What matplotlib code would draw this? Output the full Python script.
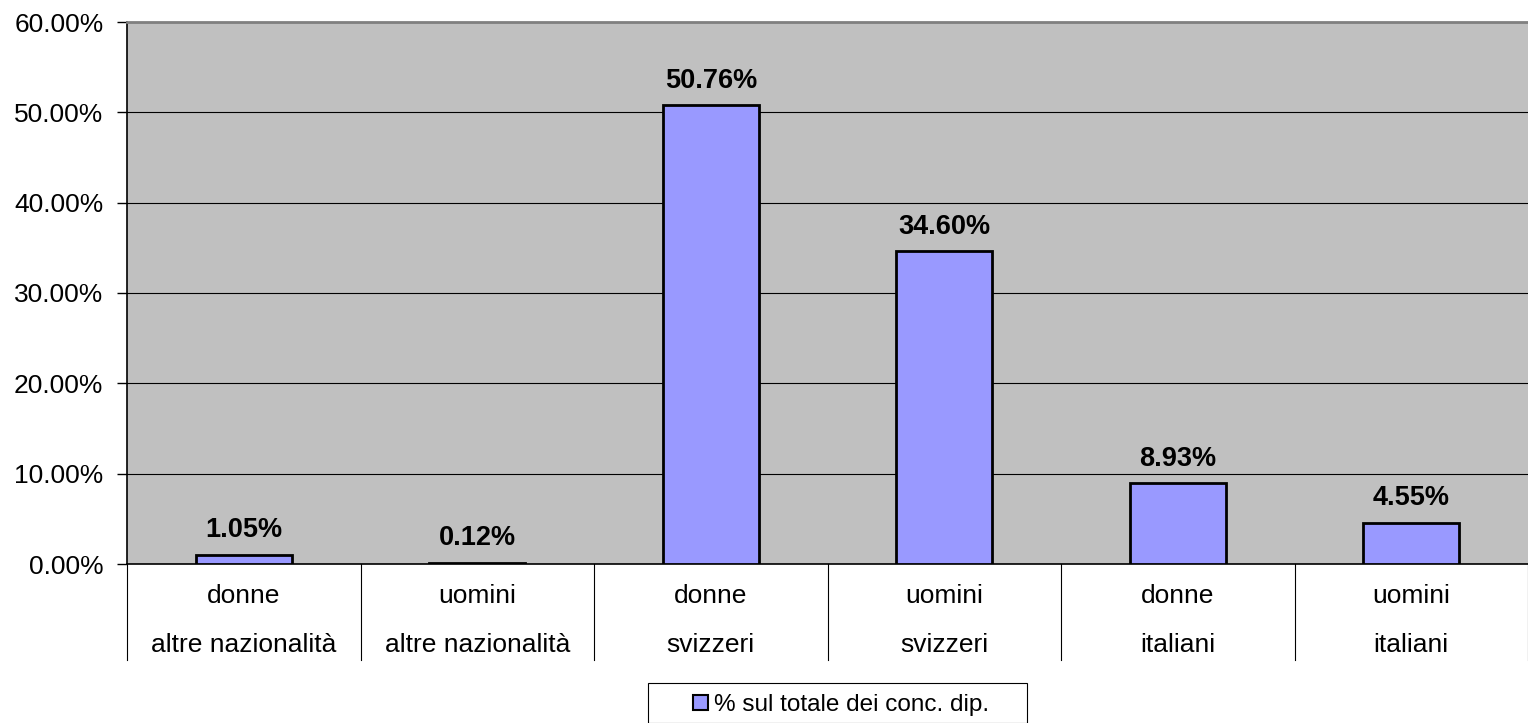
import numpy as np
import matplotlib
matplotlib.use('Agg')
import matplotlib.pyplot as plt
from matplotlib.patches import Patch, Rectangle

plt.rcParams['font.family'] = ['Liberation Sans', 'DejaVu Sans']

# dati
gruppi = ['donne', 'uomini', 'donne', 'uomini', 'donne', 'uomini']
nazionalita = ['altre nazionalità', 'altre nazionalità', 'svizzeri', 'svizzeri', 'italiani', 'italiani']
valori = [1.05, 0.12, 50.76, 34.60, 8.93, 4.55]
serie = '% sul totale dei conc. dip.'

fig = plt.figure(figsize=(15.28, 7.23), dpi=100)
ax = fig.add_axes([127/1528, 159/723, 1 - 127/1528, 542/723])
ax.set_facecolor('#C0C0C0')

x = np.arange(len(valori))
ax.bar(x, valori, width=0.41, color='#9999FF', edgecolor='black', linewidth=2, zorder=3)

ax.set_xlim(-0.5, len(valori) - 0.5)
ax.set_ylim(0, 60)
ax.set_yticks(np.arange(0, 61, 10))
ax.set_yticklabels(['{:.2f}%'.format(v) for v in np.arange(0, 61, 10)], fontsize=19)
ax.yaxis.grid(True, color='black', linewidth=0.8, zorder=1)
ax.tick_params(axis='y', length=7, width=1, pad=10)
ax.set_xticks([])

ax.spines['right'].set_visible(False)
ax.spines['top'].set_color('#808080')
ax.spines['top'].set_linewidth(2)
ax.spines['left'].set_linewidth(1.2)
ax.spines['bottom'].set_linewidth(1.2)

# etichette dati
for xi, v in zip(x, valori):
    ax.text(xi, v + 1.3, '{:.2f}%'.format(v), ha='center', va='bottom',
            fontsize=19.5, fontweight='bold', zorder=4)

# asse categorie a due livelli
trans = ax.get_xaxis_transform()
for i in range(len(valori) + 1):
    ax.plot([i - 0.5, i - 0.5], [0, -96/542], transform=trans, color='black',
            linewidth=0.8, clip_on=False)
for xi, g, n in zip(x, gruppi, nazionalita):
    ax.text(xi, -32/542, g, transform=trans, ha='center', va='center', fontsize=19)
    ax.text(xi, -81/542, n, transform=trans, ha='center', va='center', fontsize=19)

# legenda con riquadro
fig.patches.append(Rectangle((648/1528, 0), 379/1528, 40/723, transform=fig.transFigure,
                             facecolor='white', edgecolor='black', linewidth=0.8))
leg = fig.legend(handles=[Patch(facecolor='#9999FF', edgecolor='black', linewidth=1.5, label=serie)],
                 loc='center', bbox_to_anchor=(841/1528, 1 - 705/723), fontsize=17.5,
                 frameon=False, handlelength=0.6, handleheight=0.6,
                 handletextpad=0.25, borderpad=0, borderaxespad=0)

fig.savefig('out.png', dpi=100)
